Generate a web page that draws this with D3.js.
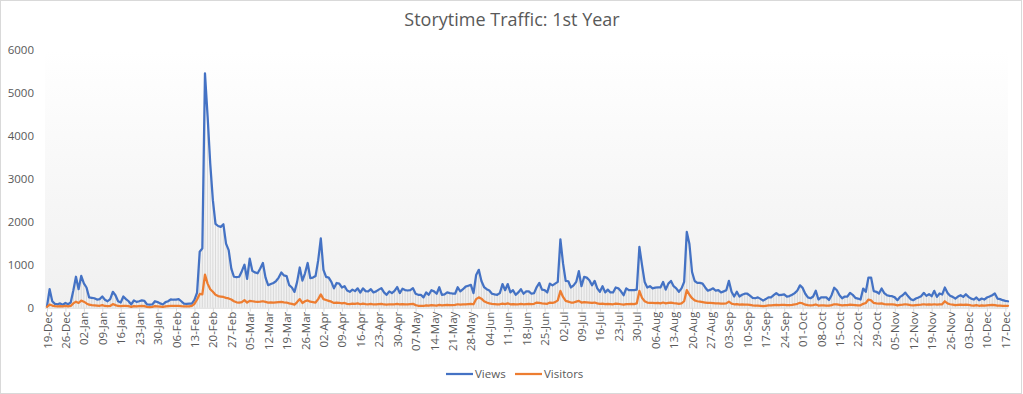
<!DOCTYPE html>
<html>
<head>
<meta charset="utf-8">
<script src="https://d3js.org/d3.v7.min.js"></script>
<style>
  body { margin: 0; background: #fff; }
  text { font-family: "Open Sans", "Liberation Sans", sans-serif; fill: #595959; }
</style>
</head>
<body>
<div id="chart"></div>
<script>
// first day of the series, one point per day
var startDay = "2015-12-19";

var seriesNames = ["Views", "Visitors"];
var seriesColors = ["#4472C4", "#ED7D31"];
var yTicks = [0, 1000, 2000, 3000, 4000, 5000, 6000];

var views = [
  30, 430, 150, 90, 80, 100, 70, 110, 80, 120,
  400, 720, 430, 740, 565, 470, 240, 230, 220, 190,
  200, 260, 185, 150, 200, 370, 290, 150, 120, 260,
  200, 150, 75, 170, 135, 150, 170, 160, 75, 70,
  75, 150, 130, 100, 75, 130, 150, 195, 185, 190,
  200, 150, 95, 90, 95, 95, 180, 350, 1300, 1380,
  5450, 4450, 3350, 2500, 1950, 1900, 1880, 1940, 1490, 1340,
  910, 720, 710, 720, 850, 1000, 670, 1140, 856, 820,
  800, 910, 1040, 700, 523, 550, 575, 620, 700, 818,
  750, 735, 523, 470, 368, 600, 935, 630, 800, 1040,
  690, 700, 735, 1100, 1610, 880, 716, 700, 600, 450,
  575, 560, 470, 500, 400, 370, 420, 385, 450, 350,
  450, 385, 380, 430, 355, 380, 420, 455, 355, 300,
  380, 340, 390, 480, 340, 440, 410, 400, 410, 455,
  325, 300, 300, 240, 355, 300, 407, 380, 325, 475,
  300, 310, 355, 340, 330, 325, 475, 380, 430, 490,
  510, 530, 340, 760, 880, 620, 480, 430, 400, 325,
  310, 300, 340, 550, 407, 550, 355, 407, 300, 355,
  430, 325, 380, 380, 325, 340, 480, 577, 420, 407,
  355, 560, 520, 560, 600, 1590, 1030, 623, 615, 470,
  520, 600, 849, 500, 715, 700, 640, 520, 623, 450,
  370, 500, 355, 420, 355, 355, 470, 450, 380, 290,
  450, 407, 407, 410, 420, 1414, 990, 600, 470, 500,
  450, 465, 470, 470, 600, 420, 560, 623, 500, 450,
  370, 450, 600, 1763, 1480, 830, 620, 577, 577, 560,
  470, 395, 420, 450, 395, 407, 355, 380, 407, 623,
  370, 260, 370, 260, 300, 325, 325, 280, 230, 220,
  240, 205, 165, 200, 240, 240, 290, 340, 290, 300,
  310, 260, 270, 300, 340, 400, 520, 460, 325, 240,
  220, 260, 395, 190, 240, 240, 240, 180, 290, 465,
  407, 290, 220, 260, 260, 345, 300, 230, 213, 190,
  446, 370, 702, 702, 385, 370, 330, 446, 340, 290,
  275, 267, 240, 175, 252, 290, 350, 270, 200, 175,
  213, 237, 267, 345, 275, 314, 267, 392, 252, 330,
  306, 469, 345, 280, 252, 213, 260, 290, 252, 314,
  252, 210, 190, 237, 175, 213, 190, 237, 260, 290,
  330, 213, 200, 175, 160, 150
];

var visitors = [
  20, 70, 50, 35, 30, 35, 30, 40, 30, 40,
  100, 140, 110, 165, 140, 100, 70, 60, 55, 50,
  45, 60, 40, 35, 40, 85, 60, 40, 35, 45,
  40, 35, 20, 35, 30, 35, 40, 35, 20, 15,
  20, 35, 30, 25, 20, 30, 35, 40, 40, 45,
  45, 35, 30, 30, 30, 40, 90, 190, 320, 310,
  770, 560, 430, 370, 300, 270, 260, 250, 230, 215,
  190, 150, 125, 120, 130, 175, 120, 160, 150, 140,
  135, 140, 150, 135, 120, 125, 120, 125, 130, 135,
  125, 120, 100, 90, 70, 130, 200, 110, 150, 170,
  140, 130, 120, 200, 310, 200, 180, 160, 140, 110,
  120, 115, 100, 110, 90, 85, 95, 90, 100, 80,
  95, 85, 80, 90, 75, 80, 85, 90, 75, 70,
  80, 75, 80, 90, 75, 85, 80, 80, 85, 90,
  60, 45, 45, 40, 55, 50, 60, 55, 50, 65,
  55, 60, 65, 60, 60, 65, 80, 70, 75, 80,
  85, 90, 80, 200, 240, 210, 150, 120, 100, 90,
  85, 80, 80, 95, 85, 100, 80, 85, 75, 80,
  90, 80, 85, 90, 85, 90, 120, 110, 100, 95,
  90, 120, 110, 130, 170, 390, 250, 160, 140, 120,
  120, 140, 160, 120, 130, 125, 120, 110, 120, 100,
  90, 95, 85, 90, 85, 80, 95, 90, 80, 70,
  85, 85, 90, 85, 100, 390, 230, 150, 120, 115,
  110, 105, 110, 100, 120, 100, 110, 120, 105, 100,
  90, 100, 150, 410, 300, 220, 170, 150, 140, 130,
  120, 110, 110, 105, 100, 100, 95, 95, 100, 140,
  95, 80, 85, 70, 75, 70, 70, 65, 55, 50,
  50, 45, 35, 45, 55, 55, 60, 65, 60, 65,
  65, 60, 60, 65, 75, 90, 115, 100, 70, 60,
  55, 60, 75, 50, 55, 55, 50, 50, 60, 80,
  75, 65, 55, 60, 60, 70, 65, 60, 55, 55,
  90, 110, 190, 170, 110, 100, 95, 100, 85, 80,
  75, 75, 70, 55, 65, 70, 80, 70, 60, 55,
  60, 65, 70, 80, 70, 75, 70, 80, 70, 75,
  80, 150, 100, 80, 70, 60, 65, 70, 65, 70,
  65, 55, 50, 60, 45, 55, 50, 55, 60, 65,
  60, 50, 50, 45, 45, 45
];

var width = 1023, height = 394;
var plot = {left: 47, right: 1008, top: 50, bottom: 307.7};

var day0 = d3.utcParse("%Y-%m-%d")(startDay);
var dates = d3.utcDay.range(day0, d3.utcDay.offset(day0, views.length));
var data = dates.map(function(d, i) {
  return {date: d, views: views[i], visitors: visitors[i]};
});

var svg = d3.select("#chart")
  .append("svg")
    .attr("width", width)
    .attr("height", height);

// chart border
svg.append("rect")
  .attr("x", 0.5).attr("y", 0.5)
  .attr("width", width - 2).attr("height", height - 1)
  .attr("fill", "#fff")
  .attr("stroke", "#d9d9d9");

// plot area gradient fill
var grad = svg.append("defs").append("linearGradient")
  .attr("id", "plot-bg")
  .attr("x1", 0).attr("y1", 0).attr("x2", 0).attr("y2", 1);
grad.append("stop").attr("offset", "0%").attr("stop-color", "#ffffff");
grad.append("stop").attr("offset", "100%").attr("stop-color", "#f0f0f0");

svg.append("rect")
  .attr("x", plot.left - 2)
  .attr("y", plot.top)
  .attr("width", plot.right - plot.left + 2)
  .attr("height", plot.bottom - plot.top)
  .attr("fill", "url(#plot-bg)");

var x = d3.scaleUtc()
  .domain([dates[0], dates[dates.length - 1]])
  .range([plot.left, plot.right]);

var y = d3.scaleLinear()
  .domain([0, 6000])
  .range([plot.bottom, 49.7]);

// title
svg.append("text")
  .attr("x", 512)
  .attr("y", 26)
  .attr("text-anchor", "middle")
  .style("font-size", "18px")
  .text("Storytime Traffic: 1st Year");

// y axis labels only
var yAxis = svg.append("g")
  .attr("transform", "translate(" + (plot.left - 3) + ",0)")
  .call(d3.axisLeft(y).tickValues(yTicks).tickFormat(d3.format("d"))
    .tickSize(0).tickPadding(10));
yAxis.select(".domain").remove();
yAxis.selectAll("text")
  .style("font-size", "11.5px")
  .attr("fill", "#595959");

// drop lines from the views line down to the axis
svg.append("g")
  .selectAll("line")
  .data(data)
  .enter().append("line")
    .attr("x1", function(d) { return x(d.date); })
    .attr("x2", function(d) { return x(d.date); })
    .attr("y1", y(0))
    .attr("y2", function(d) { return y(d.views); })
    .attr("stroke", "#cfcfcf")
    .attr("stroke-width", 0.7);

// x axis, a label every 7 days
var weekly = dates.filter(function(d, i) { return i % 7 === 0; });
var xAxis = svg.append("g")
  .attr("transform", "translate(0," + plot.bottom + ")")
  .call(d3.axisBottom(x)
    .tickValues(weekly)
    .tickFormat(d3.utcFormat("%d-%b"))
    .tickSize(4)
    .tickSizeOuter(0));
xAxis.select(".domain")
  .attr("stroke", "#d9d9d9")
  .attr("d", "M" + (plot.left - 2) + ",0.5H" + plot.right);
xAxis.selectAll(".tick line").attr("stroke", "#d9d9d9");
xAxis.selectAll("text")
  .style("font-size", "11.5px")
  .attr("fill", "#595959")
  .style("text-anchor", "end")
  .attr("transform", "rotate(-90)")
  .attr("x", -4)
  .attr("y", 0)
  .attr("dy", "0.35em");

// the two series
var keys = ["views", "visitors"];
keys.forEach(function(k, i) {
  svg.append("path")
    .datum(data)
    .attr("fill", "none")
    .attr("stroke", seriesColors[i])
    .attr("stroke-width", 2.25)
    .attr("stroke-linejoin", "round")
    .attr("stroke-linecap", "round")
    .attr("d", d3.line()
      .x(function(d) { return x(d.date); })
      .y(function(d) { return y(d[k]); }));
});

// legend
var legendX = [446, 515];
var legend = svg.append("g");
seriesNames.forEach(function(name, i) {
  legend.append("line")
    .attr("x1", legendX[i]).attr("x2", legendX[i] + 27)
    .attr("y1", 374).attr("y2", 374)
    .attr("stroke", seriesColors[i])
    .attr("stroke-width", 2.25);
  legend.append("text")
    .attr("x", legendX[i] + 29)
    .attr("y", 374)
    .attr("dy", "0.35em")
    .style("font-size", "11.5px")
    .text(name);
});
</script>
</body>
</html>
